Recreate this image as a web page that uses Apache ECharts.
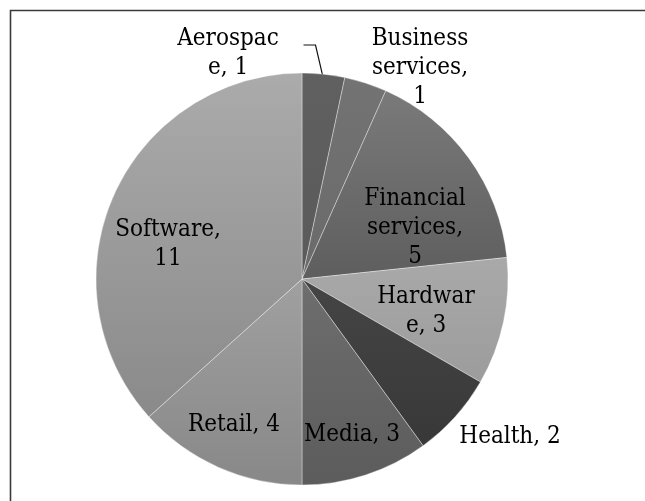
<!DOCTYPE html>
<html>
<head>
<meta charset="utf-8">
<script src="https://cdn.jsdelivr.net/npm/echarts@6/dist/echarts.min.js"></script>
<style>
  html, body { margin: 0; padding: 0; background: #ffffff; }
  #chart { width: 645px; height: 501px; }
</style>
</head>
<body>
<div id="chart"></div>
<script>
// Sector categories and company counts
const categories = ['Aerospace', 'Business services', 'Financial services', 'Hardware', 'Health', 'Media', 'Retail', 'Software'];
const counts = [1, 1, 5, 3, 2, 3, 4, 11];
// Label text as it wraps on the chart
const labelTexts = ['Aerospac\ne, 1', 'Business\nservices,\n1', 'Financial\nservices,\n5', 'Hardwar\ne, 3', 'Health, 2', 'Media, 3', 'Retail, 4', 'Software,\n11'];

// Greyscale fills: [top, bottom] of each slice's vertical shading
const fills = [
  ['#606060', '#5a5a5a'],
  ['#737373', '#6a6a6a'],
  ['#7a7a7a', '#5e5e5e'],
  ['#a9a9a9', '#9c9c9c'],
  ['#454545', '#383838'],
  ['#6e6e6e', '#5c5c5c'],
  ['#a0a0a0', '#888888'],
  ['#ababab', '#8a8a8a']
];
// Label centres (px) and which labels sit outside the pie
const labelPos = [[228, 53], [420, 68], [415, 228], [426, 311], [510, 437], [352, 435], [234, 425], [168, 244]];
const outside = [true, true, false, false, true, false, false, false];

const CENTER = [302, 279];
const RADIUS = 206;
const FONT = "'DejaVu Serif Condensed', 'DejaVu Serif', serif";

const total = counts.reduce((a, b) => a + b, 0);
// mid angle (clockwise from 12 o'clock) of slice i
function midAngle(i) {
  let before = 0;
  for (let k = 0; k < i; k++) before += counts[k];
  return (before + counts[i] / 2) / total * 2 * Math.PI;
}

const data = categories.map((name, i) => ({
  name: name,
  value: counts[i],
  itemStyle: {
    color: new echarts.graphic.LinearGradient(0, 0, 0, 1, [
      { offset: 0, color: fills[i][0] },
      { offset: 1, color: fills[i][1] }
    ])
  },
  label: { position: outside[i] ? 'outside' : 'inside' },
  labelLine: { show: i === 0 }
}));

const chart = echarts.init(document.getElementById('chart'), null, { renderer: 'canvas' });
chart.setOption({
  backgroundColor: '#ffffff',
  animation: false,
  graphic: [{
    type: 'polyline',
    shape: { points: [[10.5, 520], [10.5, 10.5], [660, 10.5]] },
    style: { stroke: '#3a3a3a', lineWidth: 1.6, fill: null },
    silent: true
  }],
  series: [{
    type: 'pie',
    center: CENTER,
    radius: RADIUS,
    startAngle: 90,
    clockwise: true,
    avoidLabelOverlap: false,
    data: data,
    itemStyle: { borderColor: 'rgba(255,255,255,0.45)', borderWidth: 0.8 },
    label: {
      show: true,
      formatter: p => labelTexts[p.dataIndex],
      fontFamily: FONT,
      fontSize: 24,
      lineHeight: 29,
      color: '#000000',
      align: 'center'
    },
    labelLine: {
      lineStyle: { color: '#111111', width: 1.2 },
      length: 10,
      length2: 10
    },
    labelLayout: function (p) {
      const i = p.dataIndex;
      const out = {
        x: labelPos[i][0],
        y: labelPos[i][1],
        align: 'center',
        verticalAlign: 'middle'
      };
      if (i === 0) {
        // leader from inside the slice's rim to the right of the label's first line
        const a = midAngle(i) + 0.01;
        const r = RADIUS * 0.955;
        const rim = [CENTER[0] + r * Math.sin(a), CENTER[1] - r * Math.cos(a)];
        const lineY = labelPos[i][1] - 8;
        out.labelLinePoints = [rim, [rim[0] - 9, lineY], [rim[0] - 21, lineY]];
      }
      return out;
    }
  }]
});
</script>
</body>
</html>
